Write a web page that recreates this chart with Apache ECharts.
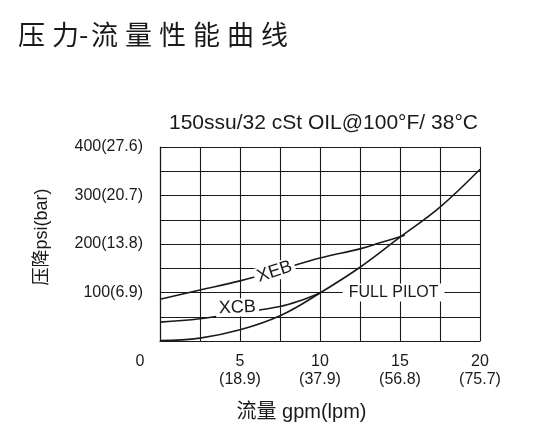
<!DOCTYPE html>
<html><head><meta charset="utf-8">
<script src="https://cdn.jsdelivr.net/npm/echarts@6/dist/echarts.min.js"></script>
<style>html,body{margin:0;padding:0;background:#fff}#c{width:550px;height:446px}</style>
</head><body><div id="c"></div>
<script>
const titleText = '压力-流量性能曲线';
const subtitleText = '150ssu/32 cSt OIL@100°F/ 38°C';
const xAxisName = '流量 gpm(lpm)';
const yAxisName = '压降psi(bar)';
const xTickGpm = [0, 5, 10, 15, 20];
const xTickLpm = ['', '(18.9)', '(37.9)', '(56.8)', '(75.7)'];
const yTickPsi = [100, 200, 300, 400];
const yTickBar = ['(6.9)', '(13.8)', '(20.7)', '(27.6)'];

const curveNames = ['FULL PILOT', 'XEB', 'XCB'];
const fullPilotGpm = [0, 2.5, 5, 7.5, 10, 12.5, 15, 17.5, 20];
const fullPilotPsi = [1, 6, 23, 52, 99, 152, 214, 276, 354];
const xebGpm = [0, 2.5, 5, 7.5, 10, 12.5, 13.8, 15.3];
const xebPsi = [86, 105, 124, 147, 171, 190, 203, 218];
const xcbGpm = [0, 2.5, 5, 7.5, 8.75, 10];
const xcbPsi = [39, 46, 58, 71, 83, 99];
// where each curve's name label sits (gpm, psi)
const labelGpm = [14.6, 7.16, 4.84];
const labelPsi = [100, 143, 69];

const FONT = "'Liberation Sans', Arial, 'Noto Sans CJK SC', sans-serif";
const CJK = "'Noto Sans CJK SC', sans-serif";
const INK = '#1a1a1a';

const chart = echarts.init(document.getElementById('c'), null, {renderer: 'canvas'});

const pair = (xs, ys) => xs.map((x, i) => [x, ys[i]]);
const seriesData = [pair(fullPilotGpm, fullPilotPsi), pair(xebGpm, xebPsi), pair(xcbGpm, xcbPsi)];
const labelStyle = [
  {fontSize: 16, rotate: 0, padding: [1, 6, 1, 6]},
  {fontSize: 18, rotate: 18, padding: [0, 3, 0, 3]},
  {fontSize: 18, rotate: 2, padding: [0, 3, 0, 3]}
];

const chars = titleText.split('');
const titleChars = chars.map((ch, i) => {
  if (ch === '-') return '{h|-}';
  return (chars[i + 1] === '-' ? '{d|' : '{c|') + ch + '}';
}).join('');
const titleTok = {fontFamily: CJK, fontSize: 27, fontWeight: 'normal', color: '#1a1a1a'};

chart.setOption({
  animation: false,
  backgroundColor: '#fff',
  title: [
    {
      text: titleChars, left: 13, top: 16,
      textStyle: Object.assign({}, titleTok, {
        rich: {
          c: Object.assign({width: 34}, titleTok),
          d: Object.assign({width: 27}, titleTok),
          h: Object.assign({width: 12}, titleTok)
        }
      })
    },
    {
      text: subtitleText, left: 164, top: 108,
      textStyle: {fontFamily: FONT, fontSize: 21, fontWeight: 'normal', color: INK}
    }
  ],
  grid: {left: 160, right: 70, top: 147, bottom: 105, containLabel: false},
  xAxis: {
    type: 'value', min: 0, max: 20, interval: 2.5,
    name: xAxisName, nameLocation: 'middle', nameGap: 61,
    nameTextStyle: {fontFamily: FONT, fontSize: 20, color: INK, padding: [0, 37, 0, 0]},
    axisLine: {show: true, lineStyle: {color: INK, width: 1.2}},
    axisTick: {show: false},
    splitLine: {show: true, lineStyle: {color: INK, width: 1.1}},
    axisLabel: {
      margin: 12, fontFamily: FONT, fontSize: 16, color: INK, lineHeight: 18,
      formatter: v => {
        const i = xTickGpm.indexOf(v);
        if (i < 0) return '';
        if (v === 0) return '{z|' + v + '}';
        return v + '\n' + xTickLpm[i];
      },
      rich: {z: {fontFamily: FONT, fontSize: 16, color: INK, padding: [0, 40, 0, 0]}}
    }
  },
  yAxis: {
    type: 'value', min: 0, max: 400, interval: 50,
    name: yAxisName, nameLocation: 'middle', nameGap: 109, nameRotate: 90,
    nameTextStyle: {fontFamily: FONT, fontSize: 18, color: INK, padding: [0, 0, 0, 14]},
    axisLine: {show: true, lineStyle: {color: INK, width: 1.2}},
    axisTick: {show: false},
    splitLine: {show: true, lineStyle: {color: INK, width: 1.1}},
    axisLabel: {
      margin: 17, fontFamily: FONT, fontSize: 16, color: INK,
      formatter: v => {
        const i = yTickPsi.indexOf(v);
        return i < 0 ? '' : v + yTickBar[i];
      }
    }
  },
  series: curveNames.map((name, k) => ({
    name: name, type: 'line', data: seriesData[k], smooth: 0.4,
    symbol: 'none', z: 3,
    lineStyle: {color: INK, width: 1.6},
    markPoint: {
      symbol: 'rect', symbolSize: 0, z: 5,
      data: [{coord: [labelGpm[k], labelPsi[k]], value: name}],
      label: {
        show: true, position: 'inside', formatter: name,
        fontFamily: FONT, fontSize: labelStyle[k].fontSize, color: INK,
        backgroundColor: '#fff', padding: labelStyle[k].padding,
        rotate: labelStyle[k].rotate
      }
    }
  }))
});
</script>
</body></html>
